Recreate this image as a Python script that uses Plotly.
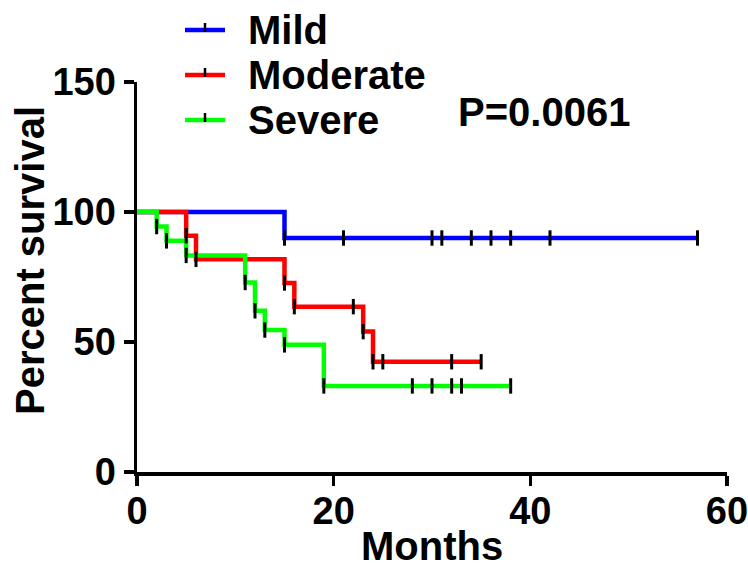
import plotly.graph_objects as go

# ---- data ----
groups = ["Mild", "Moderate", "Severe"]
colors = ["#0000FF", "#FF0000", "#00FF00"]

mild_step_t = [0, 15, 57]
mild_step_s = [100, 90, 90]
mild_cens_t = [15, 21, 30, 31, 34, 36, 38, 42, 57]

moderate_step_t = [0, 5, 6, 15, 16, 23, 24, 35]
moderate_step_s = [100, 90.9, 81.8, 72.7, 63.6, 54.0, 42.4, 42.4]
moderate_cens_t = [5, 6, 15, 16, 22, 23, 24, 25, 32, 35]

severe_step_t = [0, 2, 3, 5, 11, 12, 13, 15, 19, 38]
severe_step_s = [100, 94.4, 88.9, 83.3, 72.9, 62.0, 54.6, 48.9, 33.1, 33.1]
severe_cens_t = [2, 3, 5, 11, 12, 13, 15, 19, 28, 30, 32, 33, 38]

x_ticks = [0, 20, 40, 60]
y_ticks = [0, 50, 100, 150]
p_text = "P=0.0061"
x_title = "Months"
y_title = "Percent survival"

steps = [(mild_step_t, mild_step_s, mild_cens_t),
         (moderate_step_t, moderate_step_s, moderate_cens_t),
         (severe_step_t, severe_step_s, severe_cens_t)]

FONT = "Arial, Liberation Sans, sans-serif"


def surv_at(t, st, ss):
    val = ss[0]
    for ti, si in zip(st, ss):
        if ti <= t:
            val = si
    return val


fig = go.Figure()
for name, col, (st, ss, ct) in zip(groups, colors, steps):
    fig.add_trace(go.Scatter(x=st, y=ss, mode="lines", name=name,
                             line=dict(color=col, width=4.5, shape="hv"),
                             showlegend=False, hoverinfo="skip"))
for name, col, (st, ss, ct) in zip(groups, colors, steps):
    fig.add_trace(go.Scatter(x=ct, y=[surv_at(t, st, ss) for t in ct],
                             mode="markers", name=name + " censored",
                             marker=dict(symbol="line-ns", size=11, color="black",
                                         line=dict(color="black", width=3)),
                             showlegend=False, hoverinfo="skip"))

# page geometry (body margin removed below, so figure fills the window)
W, H = 748, 565
L, R, T, B = 137, 21, 82, 93
pw, ph = W - L - R, H - T - B


def px(xp):
    return (xp - L) / pw


def py(yp):
    return (H - B - yp) / ph


shapes = []
annotations = []
legend_rows = [30, 75, 120]
for name, col, yr in zip(groups, colors, legend_rows):
    shapes.append(dict(type="line", xref="paper", yref="paper",
                       x0=px(185), x1=px(225), y0=py(yr), y1=py(yr),
                       line=dict(color=col, width=4.5)))
    shapes.append(dict(type="line", xref="paper", yref="paper",
                       x0=px(205), x1=px(205), y0=py(yr - 7), y1=py(yr + 2),
                       line=dict(color="black", width=2.5)))
    annotations.append(dict(text="<b>%s</b>" % name, xref="paper", yref="paper",
                            x=px(246), y=py(yr), xanchor="left", yanchor="middle",
                            showarrow=False, font=dict(family=FONT, size=40, color="black")))

annotations.append(dict(text="<b>%s</b>" % p_text, xref="paper", yref="paper",
                        x=px(456), y=py(112), xanchor="left", yanchor="middle",
                        showarrow=False, font=dict(family=FONT, size=40, color="black")))
annotations.append(dict(text="<b>%s</b>" % y_title, xref="paper", yref="paper",
                        x=px(30), y=py(261), xanchor="center", yanchor="middle",
                        textangle=-90, showarrow=False,
                        font=dict(family=FONT, size=40, color="black")))
annotations.append(dict(text="<b>%s</b>" % x_title, xref="paper", yref="paper",
                        x=px(432), y=py(546), xanchor="center", yanchor="middle",
                        height=36, valign="middle", showarrow=False,
                        font=dict(family=FONT, size=40, color="black")))

axis_common = dict(showline=True, linecolor="black", linewidth=3.5,
                   ticks="outside", ticklen=10, tickwidth=3.5, tickcolor="black",
                   showgrid=False, zeroline=False, automargin=False,
                   ticklabeloverflow="allow",
                   tickfont=dict(family=FONT, size=38, color="black", weight="bold"))

fig.update_layout(
    width=W, height=H, autosize=False,
    margin=dict(l=L, r=R, t=T, b=B, pad=0),
    paper_bgcolor="white", plot_bgcolor="white",
    xaxis=dict(range=[0, 60], tickvals=x_ticks, ticklabelstandoff=-7, **axis_common),
    yaxis=dict(range=[0, 150], tickvals=y_ticks, **axis_common),
    shapes=shapes, annotations=annotations, showlegend=False,
)

fig.write_html("out.html",
               config={"displayModeBar": False, "staticPlot": True},
               post_script="document.body.style.margin='0';"
                           "document.body.style.overflow='hidden';")
